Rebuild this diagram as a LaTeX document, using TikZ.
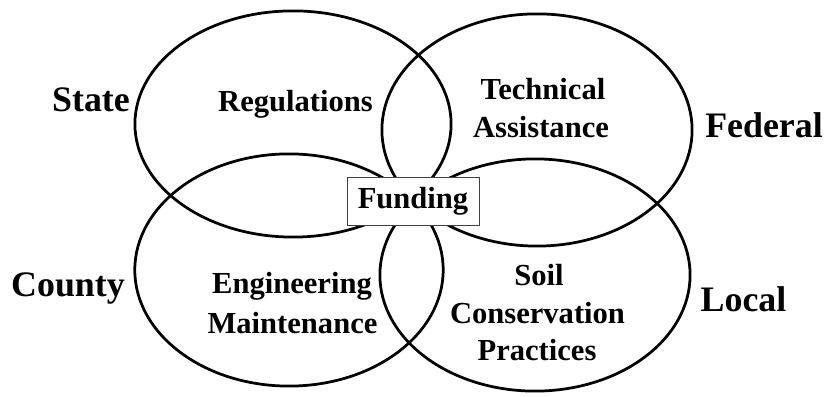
\documentclass[tikz,border=0pt]{standalone}
\usepackage{fontspec}
\setmainfont{Liberation Serif}
\usepackage{tikz}

\tikzset{
  ring/.style={line width=2.6pt},
  level/.style={font=\bfseries\fontsize{34}{36}\selectfont, anchor=base},
  role/.style={font=\bfseries\fontsize{29}{31}\selectfont, anchor=base},
  hub/.style={draw=black!75, line width=0.8pt, fill=white, minimum width=4.4cm,
    minimum height=1.6cm, font=\bfseries\fontsize{29}{31}\selectfont, inner sep=0pt}
}

\begin{document}
\begin{tikzpicture}
        \useasboundingbox (0,0) rectangle (27.633,13.2);

        % State circle
        \draw[ring] (9.767,9.067) ellipse (5.27 and 3.77);
        % Federal circle
        \draw[ring] (17.9,8.867) ellipse (5.17 and 3.87);
        % County circle
        \draw[ring] (9.633,4.2) ellipse (5.14 and 3.87);
        % Local circle
        \draw[ring] (17.833,4.033) ellipse (5.17 and 3.87);

        % Shared centre
        \node[hub] (funding) at (13.767,6.5) {Funding};

        % Roles
        \node[role] (regulations) at (9.85,9.467) {Regulations};
        \node[role] (technical) at (18.1,9.867) {Technical};
        \node[role] (assistance) at (18.033,8.633) {Assistance};
        \node[role] (engineering) at (9.733,3.4) {Engineering};
        \node[role] (maintenance) at (9.75,2.067) {Maintenance};
        \node[role] (soil) at (17.967,3.667) {Soil};
        \node[role] (conservation) at (17.917,2.4) {Conservation};
        \node[role] (practices) at (17.9,1.167) {Practices};

        % Levels
        \node[level] (state) at (3.033,9.467) {State};
        \node[level] (federal) at (25.467,8.633) {Federal};
        \node[level] (county) at (2.267,3.3) {County};
        \node[level] (local) at (24.783,2.833) {Local};
\end{tikzpicture}
\end{document}
